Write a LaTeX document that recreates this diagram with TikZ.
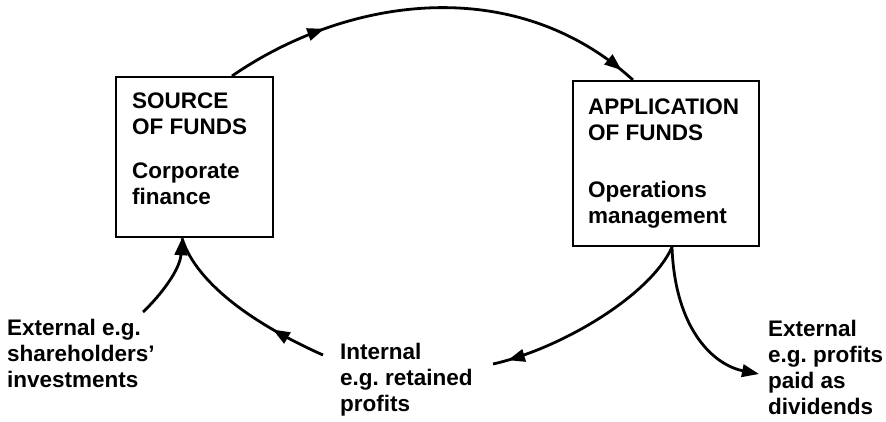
\documentclass[tikz,border=0pt]{standalone}
\usepackage{fontspec}
\setmainfont{Liberation Sans}
\usetikzlibrary{arrows.meta,decorations.markings,calc}

\begin{document}
\begin{tikzpicture}[x=1pt,y=-1pt,
  box/.style={draw, line width=2.2pt, inner sep=0pt, anchor=north west},
  txt/.style={anchor=base west, align=left, inner sep=0pt,
              font=\bfseries\fontsize{22.5}{26}\selectfont},
  flow/.style={line width=2.8pt},
  headtip/.tip={Triangle[length=17pt,width=12.5pt]},
  endtip/.style={-{headtip}},
]
\useasboundingbox (0,0) rectangle (886,421);

% the two function boxes
\node[box, minimum width=157pt, minimum height=160pt] (src) at (115,76) {};
\node[box, minimum width=186pt, minimum height=165pt] (app) at (572,80) {};

% text blocks are placed by the baseline of their last line
\node[txt] (srcT) at (132,204) {SOURCE\\OF FUNDS\\[18pt]Corporate\\finance};
\node[txt] (appT) at (588,223) {APPLICATION\\OF FUNDS\\[31pt]Operations\\management};

% side labels
\node[txt] (extL) at (7,387)   {External e.g.\\shareholders'\\investments};
\node[txt] (intL) at (340,411) {Internal\\e.g.\ retained\\profits};
\node[txt] (extR) at (768,414) {External\\e.g.\ profits\\paid as\\dividends};

% loose ends of the flows
\coordinate (intA) at (493,364);
\coordinate (intB) at (323,355);
\coordinate (extS) at (143,312);
\coordinate (divE) at (759,374);
\coordinate (srcTop) at ($(src.north west)+(117,0)$);
\coordinate (appTop) at ($(app.north west)+(61,0)$);
\coordinate (srcBot) at ($(src.south west)+(67,0)$);
\coordinate (appBot) at ($(app.south west)+(100,0)$);

% funds flow from source to application
\draw[flow, postaction={decorate}, decoration={markings,
    mark=at position 0.24 with {\arrow{headtip}},
    mark=at position 0.965 with {\arrow{headtip}}}]
  (srcTop) .. controls (345,-2) and (513,-29) .. (appTop);

% retained profits back to the source
\draw[flow, postaction={decorate}, decoration={markings,
    mark=at position 0.93 with {\arrow{headtip}}}]
  (appBot) .. controls (650,296) and (560,349) .. (intA);
\draw[flow, postaction={decorate}, decoration={markings,
    mark=at position 0.3 with {\arrow{headtip}}}]
  (intB) .. controls (260,327) and (197,286) .. (srcBot);

% external funds in and out
\draw[flow, endtip] (extS) .. controls (160,296) and (180,270) .. (srcBot);
\draw[flow, endtip] (appBot) .. controls (675,330) and (714,365) .. (divE);
\end{tikzpicture}
\end{document}
